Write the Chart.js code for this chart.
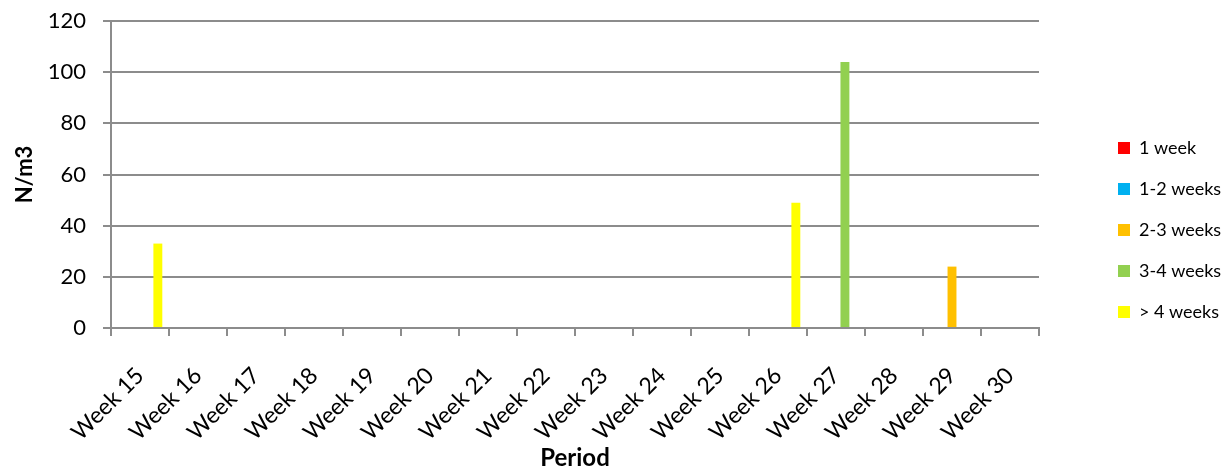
<!DOCTYPE html>
<html>
<head>
<meta charset="utf-8">
<script src="https://cdn.jsdelivr.net/npm/chart.js@4/dist/chart.umd.min.js"></script>
<style>
  html, body { margin: 0; padding: 0; background: #ffffff; }
  canvas { display: block; }
</style>
</head>
<body>
<canvas id="chart" width="1231" height="473"></canvas>
<script>
// Sampling periods
const weeks = ['Week 15', 'Week 16', 'Week 17', 'Week 18', 'Week 19', 'Week 20', 'Week 21', 'Week 22',
               'Week 23', 'Week 24', 'Week 25', 'Week 26', 'Week 27', 'Week 28', 'Week 29', 'Week 30'];

// Density (N/m3) by age class
const oneWeek    = [0, 0, 0, 0, 0, 0, 0, 0, 0, 0, 0, 0, 0, 0, 0, 0];
const oneToTwo   = [0, 0, 0, 0, 0, 0, 0, 0, 0, 0, 0, 0, 0, 0, 0, 0];
const twoToThree = [0, 0, 0, 0, 0, 0, 0, 0, 0, 0, 0, 0, 0, 0, 24, 0];
const threeToFour= [0, 0, 0, 0, 0, 0, 0, 0, 0, 0, 0, 0, 104, 0, 0, 0];
const overFour   = [33, 0, 0, 0, 0, 0, 0, 0, 0, 0, 0, 49, 0, 0, 0, 0];

const seriesLabels = ['1 week', '1-2 weeks', '2-3 weeks', '3-4 weeks', '> 4 weeks'];
const seriesColors = ['#FF0000', '#00B0F0', '#FFC000', '#92D050', '#FFFF00'];
const yTicks = [0, 20, 40, 60, 80, 100, 120];

const FONT = 'Lato, "Open Sans", sans-serif';
const GRID = '#8c8c8c';

// Legend sits in its own column right of the plot
const legendPlacement = {
  id: 'legendPlacement',
  afterLayout(chart) {
    const lg = chart.legend;
    if (!lg) return;
    lg.left = 1095;
    lg.right = 1231;
    lg.width = lg.right - lg.left;
    const dy = -17;
    lg.top += dy; lg.bottom += dy;
  }
};

const seriesData = [oneWeek, oneToTwo, twoToThree, threeToFour, overFour];

new Chart(document.getElementById('chart'), {
  type: 'bar',
  data: {
    labels: weeks,
    datasets: seriesData.map((d, i) => ({
      label: seriesLabels[i],
      data: d,
      backgroundColor: seriesColors[i],
      borderWidth: 0,
      categoryPercentage: 5 / 6.5,
      barPercentage: 1.0
    }))
  },
  options: {
    responsive: false,
    animation: false,
    layout: { padding: { left: 8, top: 21, right: 92, bottom: 0 } },
    plugins: {
      tooltip: { enabled: false },
      legend: {
        position: 'right',
        maxWidth: 100,
        labels: {
          boxWidth: 12,
          boxHeight: 12,
          padding: 23,
          color: '#000000',
          font: { family: FONT, size: 18 }
        }
      }
    },
    scales: {
      x: {
        grid: {
          offset: true,
          drawOnChartArea: false,
          drawTicks: true,
          tickLength: 8,
          color: GRID,
          lineWidth: 2
        },
        border: { display: true, color: GRID, width: 2 },
        ticks: {
          autoSkip: false,
          minRotation: 45,
          maxRotation: 45,
          padding: 26,
          color: '#000000',
          font: { family: FONT, size: 23 }
        },
        title: {
          display: true,
          text: 'Period',
          color: '#000000',
          font: { family: FONT, size: 24, weight: 'bold' },
          padding: { top: 0, bottom: 0 }
        },
        afterFit(scale) { scale.height = 473 - 328; }
      },
      y: {
        min: 0,
        max: 120,
        afterBuildTicks(scale) { scale.ticks = yTicks.map(v => ({ value: v })); },
        grid: {
          color: GRID,
          lineWidth: 2,
          tickLength: 8,
          drawTicks: true
        },
        border: { display: true, color: GRID, width: 2 },
        ticks: {
          padding: 17,
          color: '#000000',
          font: { family: FONT, size: 22 }
        },
        title: {
          display: true,
          text: 'N/m3',
          color: '#000000',
          font: { family: FONT, size: 22, weight: 'bold' },
          padding: { top: 4, bottom: 0 }
        },
        afterFit(scale) {
          scale.width = 111 - 8;
          scale.paddingTop = 0;
          scale.paddingBottom = 0;
        }
      }
    }
  },
  plugins: [legendPlacement]
});
</script>
</body>
</html>
